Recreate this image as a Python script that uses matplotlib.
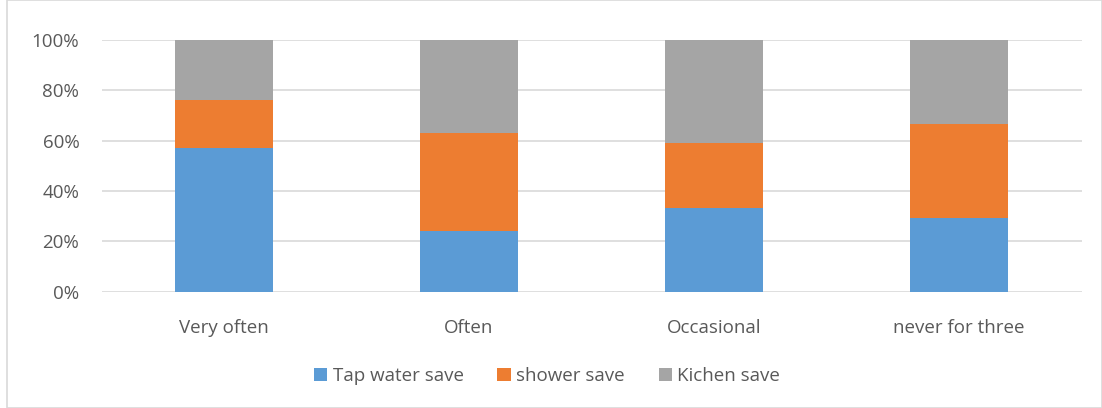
import numpy as np
import matplotlib.pyplot as plt
from matplotlib.patches import Rectangle
from matplotlib.ticker import PercentFormatter

plt.rcParams['font.family'] = ['Open Sans', 'DejaVu Sans']

categories = ['Very often', 'Often', 'Occasional', 'never for three']
series_names = ['Tap water save', 'shower save', 'Kichen save']
tap_water = [57.0, 24.0, 33.3, 29.2]
shower = [19.0, 39.2, 25.7, 37.6]
kitchen = [24.0, 36.8, 41.0, 33.2]
colors = ['#5b9bd5', '#ed7d31', '#a5a5a5']

fig = plt.figure(figsize=(11.02, 4.08), dpi=100)
ax = fig.add_axes([101.5 / 1102, 1 - 291.7 / 408, 980 / 1102, 251.7 / 408])

x = np.arange(len(categories))
bottom = np.zeros(len(categories))
for vals, name, c in zip([tap_water, shower, kitchen], series_names, colors):
    ax.bar(x, vals, width=0.4, bottom=bottom, color=c, label=name, zorder=3)
    bottom += np.array(vals)

ax.set_xlim(-0.5, len(categories) - 0.5)
ax.set_ylim(0, 100)
ax.set_yticks(np.arange(0, 101, 20))
ax.yaxis.set_major_formatter(PercentFormatter(decimals=0))
ax.grid(axis='y', color='#d9d9d9', linewidth=1.2, zorder=0)
for s in ax.spines.values():
    s.set_visible(False)
ax.tick_params(length=0, labelsize=13.5, colors='#595959', pad=16)
ax.tick_params(axis='x', pad=20)
ax.set_xticks(x)
ax.set_xticklabels(categories)

leg = fig.legend(loc='center', bbox_to_anchor=(547 / 1102, 1 - 376 / 408), ncol=3,
                 frameon=False, fontsize=13.5, handlelength=0.7, handleheight=0.7,
                 handletextpad=0.3, columnspacing=1.8)
for t in leg.get_texts():
    t.set_color('#595959')

fig.patches.append(Rectangle((7 / 1102, 0), 1 - 7 / 1102, 1, transform=fig.transFigure,
                             fill=False, edgecolor='#d9d9d9', linewidth=1.2))

fig.savefig('out.png', dpi=100)
